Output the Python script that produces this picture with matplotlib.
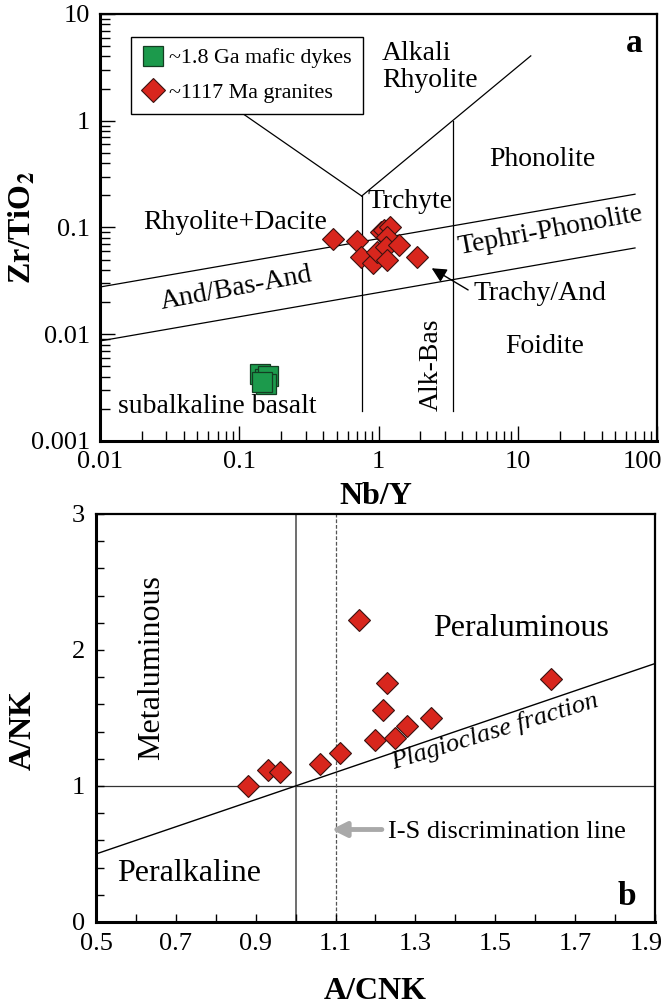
import numpy as np
import matplotlib
matplotlib.use("Agg")
import matplotlib.pyplot as plt
from matplotlib.lines import Line2D
from matplotlib.transforms import ScaledTranslation
from matplotlib.ticker import MultipleLocator, LogLocator, NullFormatter, FixedLocator

plt.rcParams['font.family'] = ['Liberation Serif', 'DejaVu Serif']
plt.rcParams['mathtext.fontset'] = 'stix'

# --- (a) Nb/Y vs Zr/TiO2 ---
dyke_nby = [0.140, 0.152, 0.162, 0.155, 0.146]
dyke_zrti = [0.0042, 0.0038, 0.0041, 0.0034, 0.0036]

gran_nby = [0.47, 0.70, 0.75, 0.91, 0.98, 1.05, 1.10, 1.20, 1.15, 1.13, 1.40, 1.16, 1.90]
gran_zrti = [0.078, 0.074, 0.053, 0.046, 0.059, 0.090, 0.095, 0.100, 0.082, 0.066, 0.068, 0.050, 0.053]

# --- (b) A/CNK vs A/NK ---
acnk = [0.88, 0.93, 0.96, 1.06, 1.11, 1.16, 1.23, 1.22, 1.20, 1.25, 1.28, 1.34, 1.64]
ank = [1.00, 1.12, 1.10, 1.16, 1.24, 2.22, 1.76, 1.56, 1.34, 1.35, 1.44, 1.50, 1.79]

xt_a = [0.01, 0.1, 1, 10, 100]
yt_a = [0.001, 0.01, 0.1, 1, 10]
xt_b = [0.5, 0.7, 0.9, 1.1, 1.3, 1.5, 1.7, 1.9]
yt_b = [0, 1, 2, 3]

green = '#1c9a4c'
red = '#d8261d'
fs_lab = 20

fig = plt.figure(figsize=(6.66, 10.05), dpi=100)
ax1 = fig.add_axes([0.1502, 0.5612, 0.8363, 0.4249])
ax2 = fig.add_axes([0.1441, 0.0826, 0.8393, 0.4060])


def pull_last_label(ax, px):
    # shift the right-most tick label inward so it is not clipped
    lab = ax.get_xticklabels()[-1]
    lab.set_horizontalalignment('right')
    lab.set_transform(lab.get_transform() + ScaledTranslation(px / 100, 0, fig.dpi_scale_trans))


# ----- panel a -----
ax1.set_xscale('log')
ax1.set_yscale('log')
ax1.set_xlim(0.01, 100)
ax1.set_ylim(0.001, 10)

lk = dict(color='black', lw=0.9, zorder=1)
jx, jy = 0.757, 0.197
ax1.plot([0.09, jx], [1.35, jy], **lk)
ax1.plot([jx, 12.4], [jy, 4.05], **lk)
ax1.plot([jx, jx], [jy, 0.0019], **lk)
ax1.plot([3.45, 3.45], [1.0, 0.0019], **lk)
ax1.plot([0.01, 69.5], [0.0277, 0.205], **lk)
ax1.plot([0.01, 69.5], [0.00865, 0.0643], **lk)
ax1.annotate('', xy=(2.41, 0.0415), xytext=(4.4, 0.026),
             arrowprops=dict(arrowstyle='-|>', color='black', lw=1.0,
                             mutation_scale=22, shrinkA=0, shrinkB=0))

ax1.plot(dyke_nby, dyke_zrti, 's', ms=14.5, mfc=green, mec='#143d22', mew=0.9,
         ls='none', zorder=3)
ax1.plot(gran_nby, gran_zrti, 'D', ms=11.2, mfc=red, mec='#3a1210', mew=0.8,
         ls='none', zorder=4)

ax1.text(1.06, 3.2, 'Alkali\nRhyolite', fontsize=fs_lab, ha='left', va='center',
         linespacing=1.1)
ax1.text(14.9, 0.435, 'Phonolite', fontsize=fs_lab, ha='center', va='center')
ax1.text(1.68, 0.175, 'Trchyte', fontsize=fs_lab, ha='center', va='center')
ax1.text(0.093, 0.112, 'Rhyolite+Dacite', fontsize=fs_lab, ha='center', va='center')
ax1.text(17.1, 0.0927, 'Tephri-Phonolite', fontsize=fs_lab, ha='center', va='center',
         rotation=10.5, rotation_mode='anchor')
ax1.text(0.095, 0.027, 'And/Bas-And', fontsize=fs_lab, ha='center', va='center',
         rotation=10.5, rotation_mode='anchor')
ax1.text(4.8, 0.0243, 'Trachy/And', fontsize=fs_lab, ha='left', va='center')
ax1.text(15.7, 0.0076, 'Foidite', fontsize=fs_lab, ha='center', va='center')
ax1.text(2.4, 0.0052, 'Alk-Bas', fontsize=fs_lab, ha='center', va='center', rotation=90)
ax1.text(0.070, 0.0021, 'subalkaline basalt', fontsize=fs_lab, ha='center', va='center')
ax1.text(0.96, 0.931, 'a', transform=ax1.transAxes, fontsize=24, fontweight='bold',
         ha='center', va='center')

handles = [
    Line2D([], [], marker='s', ls='none', ms=14.5, mfc=green, mec='#143d22', mew=0.9),
    Line2D([], [], marker='D', ls='none', ms=12.5, mfc=red, mec='#3a1210', mew=0.8),
]
leg = ax1.legend(handles, ['~1.8 Ga mafic dykes', '~1117 Ma granites'],
                 loc='upper left', bbox_to_anchor=(0.0557, 0.946), borderaxespad=0,
                 fontsize=15.8, frameon=True, fancybox=False, edgecolor='black',
                 framealpha=1, handlelength=1.0, handletextpad=0.25,
                 labelspacing=0.65, borderpad=0.5)
leg.get_frame().set_linewidth(1.0)
leg.set_zorder(10)

ax1.xaxis.set_major_locator(FixedLocator(xt_a))
ax1.yaxis.set_major_locator(FixedLocator(yt_a))
ax1.xaxis.set_minor_locator(LogLocator(base=10, subs=np.arange(2, 10)))
ax1.yaxis.set_minor_locator(LogLocator(base=10, subs=np.arange(2, 10)))
ax1.xaxis.set_minor_formatter(NullFormatter())
ax1.yaxis.set_minor_formatter(NullFormatter())
ax1.set_xticklabels([f'{v:g}' for v in xt_a])
ax1.set_yticklabels([f'{v:g}' for v in yt_a])
ax1.tick_params(which='major', direction='in', length=11, width=1.0, labelsize=19, pad=7)
ax1.tick_params(which='minor', direction='in', length=7, width=1.0)
pull_last_label(ax1, 5)

ax1.set_xlabel('Nb/Y', fontsize=23, fontweight='bold')
ax1.set_ylabel(r'Zr/TiO$_\mathbf{2}$', fontsize=23, fontweight='bold')
ax1.xaxis.set_label_coords(0.495, -0.095)
ax1.yaxis.set_label_coords(-0.112, 0.5)

# ----- panel b -----
ax2.set_xlim(0.5, 1.9)
ax2.set_ylim(0, 3)

ax2.axhline(1.0, color='#333333', lw=0.9, zorder=1)
ax2.axvline(1.0, color='#555555', lw=1.2, zorder=1)
ax2.axvline(1.1, color='#555555', lw=0.9, ls=(0, (3, 1.5)), zorder=1)
xl = np.array([0.5, 1.9])
ax2.plot(xl, xl, color='black', lw=1.0, zorder=1)

ax2.annotate('', xy=(1.09, 0.68), xytext=(1.216, 0.68),
             arrowprops=dict(arrowstyle='-|>', color='#a9a9a9', lw=3.5,
                             mutation_scale=22, shrinkA=0, shrinkB=0))

ax2.plot(acnk, ank, 'D', ms=11.2, mfc=red, mec='#3a1210', mew=0.8, ls='none', zorder=4)

ax2.text(0.64, 1.87, 'Metaluminous', fontsize=23, rotation=90, ha='center', va='center')
ax2.text(1.565, 2.16, 'Peraluminous', fontsize=23, ha='center', va='center')
ax2.text(0.732, 0.36, 'Peralkaline', fontsize=23, ha='center', va='center')
ax2.text(1.5, 1.40, 'Plagioclase fraction', fontsize=19, style='italic',
         ha='center', va='center', rotation=17.0, rotation_mode='anchor')
ax2.text(1.232, 0.664, 'I-S discrimination line', fontsize=19, ha='left', va='center')
ax2.text(0.949, 0.062, 'b', transform=ax2.transAxes, fontsize=24, fontweight='bold',
         ha='center', va='center')

ax2.xaxis.set_major_locator(FixedLocator(xt_b))
ax2.xaxis.set_minor_locator(MultipleLocator(0.1))
ax2.yaxis.set_major_locator(FixedLocator(yt_b))
ax2.yaxis.set_minor_locator(MultipleLocator(0.2))
ax2.set_xticklabels([f'{v:.1f}' for v in xt_b])
ax2.set_yticklabels([str(v) for v in yt_b])
ax2.tick_params(which='major', direction='in', length=6, width=1.0, labelsize=19, pad=8)
ax2.tick_params(which='minor', direction='in', length=6, width=1.0)
pull_last_label(ax2, 8)

ax2.set_xlabel('A/CNK', fontsize=23, fontweight='bold')
ax2.set_ylabel('A/NK', fontsize=23, fontweight='bold')
ax2.xaxis.set_label_coords(0.5, -0.135)
ax2.yaxis.set_label_coords(-0.104, 0.47)

for ax in (ax1, ax2):
    for s in ax.spines.values():
        s.set_linewidth(1.6)
    ax.spines['left'].set_linewidth(2.2)
    ax.spines['bottom'].set_linewidth(2.2)

fig.savefig('out.png', dpi=100)
